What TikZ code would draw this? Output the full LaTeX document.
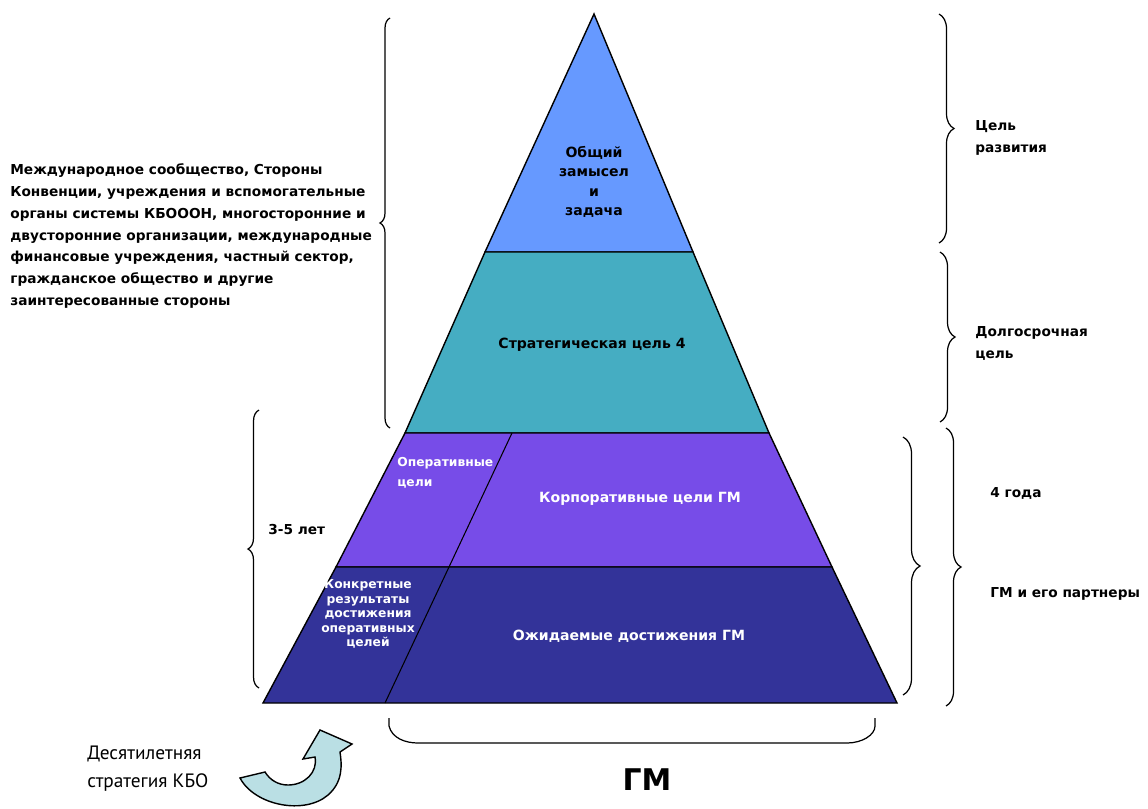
\documentclass[tikz,border=0pt]{standalone}
\usepackage{fontspec}
\setmainfont{DejaVu Sans}
\newfontfamily\ptsans{PT Sans}
\usetikzlibrary{decorations.pathreplacing}
\definecolor{topblue}{HTML}{6699FF}
\definecolor{teal}{HTML}{45ADC2}
\definecolor{violet}{HTML}{774CE8}
\definecolor{navy}{HTML}{333399}
\definecolor{arrowcyan}{HTML}{BADFE4}

\begin{document}
\begin{tikzpicture}
	[x=0.02cm,y=-0.02cm,
		layer/.style={draw=black,line width=0.8pt},
		lbl/.style={font=\bfseries\fontsize{8}{11}\selectfont,align=center},
		wlbl/.style={lbl,text=white},
		small/.style={font=\bfseries\fontsize{7}{8.2}\selectfont},
		side/.style={font=\bfseries\fontsize{7.8}{12.5}\selectfont,align=left,anchor=west,inner sep=0pt},
		curly/.style={decorate,decoration={brace,amplitude=#1},line width=0.7pt}]

	\useasboundingbox (0,0) rectangle (1148,808);

	% pyramid layers
	\path[layer,fill=topblue] (594,14) -- (693,252) -- (485,252) -- cycle;
	\path[layer,fill=teal]    (485,252) -- (693,252) -- (769,433) -- (405,433) -- cycle;
	\path[layer,fill=violet]  (405,433) -- (769,433) -- (832,567) -- (336,567) -- cycle;
	\path[layer,fill=navy]    (336,567) -- (832,567) -- (897,703) -- (263,703) -- cycle;
	\draw[line width=0.6pt] (512,433) -- (449,567) -- (385,703);

	\node[lbl]  (goal)   at (594,182) {Общий\\замысел\\и\\задача};
	\node[lbl]  (strat)  at (592,345) {Стратегическая цель 4};
	\node[wlbl] (corp)   at (640,499) {Корпоративные цели ГМ};
	\node[wlbl] (expect) at (629,636) {Ожидаемые достижения ГМ};
	\node[wlbl,font=\bfseries\fontsize{7}{11.3}\selectfont,align=left,anchor=west,inner sep=0pt] (oper) at (397,473) {Оперативные\\цели};
	\node[wlbl,small] (results) at (368,614) {Конкретные\\результаты\\достижения\\оперативных\\целей};

	% braces
	\draw[curly=0.2cm]  (390,428) -- (390,18);
	\draw[curly=0.22cm] (259,688) -- (259,410);
	\draw[curly=0.3cm]  (939,14)  -- (939,243);
	\draw[curly=0.3cm]  (940,252) -- (940,422);
	\draw[curly=0.34cm] (903,437) -- (903,695);
	\draw[curly=0.3cm]  (946,428) -- (946,706);
	\draw[line width=0.7pt] (389,718) -- (389,726) .. controls (392,738) and (405,743) .. (418,743)
		-- (847,743) .. controls (862,743) and (875,735) .. (875,726) -- (875,718);

	% side labels
	\node[side] (actors) at (10,236) {Международное сообщество, Стороны\\Конвенции, учреждения и вспомогательные\\органы системы КБОООН, многосторонние и\\двусторонние организации, международные\\финансовые учреждения, частный сектор,\\гражданское общество и другие\\заинтересованные стороны};
	\node[side] (years)    at (268,530) {3-5 лет};
	\node[side] (devgoal)  at (975,138) {Цель\\развития};
	\node[side] (longgoal) at (975,343) {Долгосрочная\\цель};
	\node[side] (four)     at (990,493) {4 года};
	\node[side] (partners) at (990,594) {ГМ и его партнеры};
	\node[font=\bfseries\fontsize{17}{20}\selectfont] (gm) at (647,780) {ГМ};
	\node[anchor=west,align=left,inner sep=0pt,font=\ptsans\fontsize{11}{15.9}\selectfont] (strategy) at (87,769) {Десятилетняя\\стратегия КБО};

	% curved arrow
	\path[draw=black,line width=0.8pt,fill=arrowcyan] (240,778) .. controls (255,806) and (305,815) .. (328,795)
		.. controls (343,782) and (342,765) .. (340,752) -- (352,744) -- (320,730) -- (303,759) -- (315,757)
		.. controls (318,772) and (305,785) .. (288,785) .. controls (278,785) and (270,780) .. (265,772) -- cycle;

\end{tikzpicture}
\end{document}
